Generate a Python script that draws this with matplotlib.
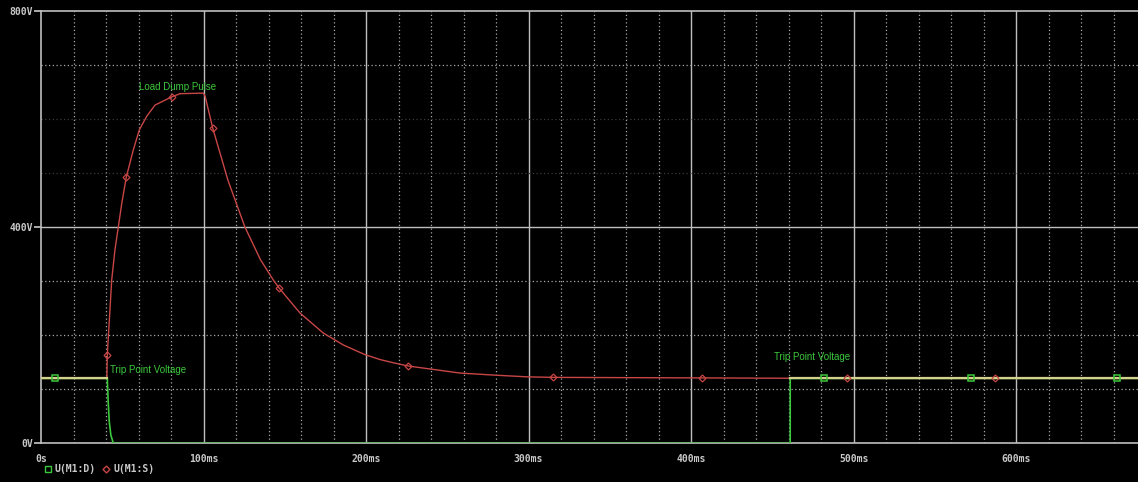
import numpy as np
import matplotlib
matplotlib.use('Agg')
import matplotlib.pyplot as plt
from matplotlib.lines import Line2D
from matplotlib.ticker import FixedLocator

# -------------------------------------------------------------------------------------------------------------------- #
# DATA (time in ms, voltage in V)

# U(M1:S) - load dump pulse
t_source = [0, 40.5, 40.8, 43.5, 45.5, 47.6, 49.7, 52.5, 56.8, 60.5, 65.0, 70.2, 80.4, 85.5, 99.9, 101.0,
            105.7, 115.0, 125.5, 135.0, 143.4, 146.6, 159.4, 173.7, 186.0, 199.4, 208.6, 216.8, 226.0,
            257.8, 280.0, 298.9, 315.0, 407.0, 496.0, 587.0, 675.0]
v_source = [120, 120, 164, 302, 358, 401, 444, 493, 543, 580, 605, 626, 641, 647, 648, 642,
            583, 487, 400, 340, 300, 287, 241, 204, 182, 164, 155, 149, 143,
            130, 126, 123, 122, 121, 120, 120, 120]
source_markers = [2, 7, 12, 16, 21, 28, 32, 33, 34, 35]

# U(M1:D) - drain, trips off and back on
t_drain = [0, 8.6, 40.8, 41.3, 42.0, 43.0, 44.5, 461.0, 461.0, 482.0, 572.0, 662.0, 675.0]
v_drain = [120, 120, 120, 80, 40, 15, 0, 0, 120, 120, 120, 120, 120]
drain_markers = [1, 9, 10, 11]

x_ticks = [0, 100, 200, 300, 400, 500, 600]
x_labels = ['0s', '100ms', '200ms', '300ms', '400ms', '500ms', '600ms']
y_ticks = [0, 400, 800]
y_labels = ['0V', '400V', '800V']

notes = [('Load Dump Pulse', 60.5, 660),
         ('Trip Point Voltage', 42.5, 136),
         ('Trip Point Voltage', 451.0, 160)]

# -------------------------------------------------------------------------------------------------------------------- #
# PLOT

green = '#3cc83c'
red = '#c84646'
yellow = '#d2d28c'
grid_col = '#a8a8a8'

fig = plt.figure(figsize=(11.38, 4.82), dpi=100, facecolor='black')
ax = fig.add_axes([41 / 1138, 1 - 443.3 / 482, 1 - 41 / 1138, (443.3 - 11) / 482])
ax.set_facecolor('black')

ax.set_xlim(0, 675)
ax.set_ylim(0, 800)

# grid
for x in range(20, 675, 20):
    if x % 100 == 0:
        ax.axvline(x, color='#bebebe', lw=1.0, zorder=1)
    else:
        ax.axvline(x, color=grid_col, lw=0.9, ls=(0, (1, 2)), zorder=1)
for y in range(100, 800, 100):
    if y == 400:
        ax.axhline(y, color='#bebebe', lw=1.0, zorder=1)
    elif y in (500, 600):
        ax.axhline(y, color='#3a3a3a', lw=0.9, ls=(0, (1, 2)), zorder=1)
    else:
        ax.axhline(y, color=grid_col, lw=0.9, ls=(0, (1, 2)), zorder=1)

# traces
ax.plot(t_drain, v_drain, color=green, lw=1.2, zorder=3)
ax.plot(t_source, v_source, color=red, lw=1.0, zorder=4)
v_drain_arr = np.array(v_drain, dtype=float)
ax.plot(t_drain, np.ma.masked_where(v_drain_arr < 119, v_drain_arr), color=yellow, lw=1.6, zorder=5)

ax.plot(np.array(t_source)[source_markers], np.array(v_source)[source_markers], linestyle='none',
        marker='D', markersize=3.5, mfc='none', mec=red, mew=0.9, zorder=6)
ax.plot(np.array(t_drain)[drain_markers], np.array(v_drain)[drain_markers], linestyle='none',
        marker='s', markersize=5, mfc='none', mec=green, mew=1.1, zorder=6)

for text, tx, ty in notes:
    ax.text(tx, ty, text, color=green, fontsize=7, family='Liberation Sans', va='center', ha='left', zorder=7)

# axes
for side in ['left', 'bottom', 'top']:
    ax.spines[side].set_color('#bebebe')
    ax.spines[side].set_linewidth(1.2)
ax.spines['right'].set_visible(False)

ax.xaxis.set_major_locator(FixedLocator(x_ticks))
ax.set_xticklabels(x_labels)
ax.yaxis.set_major_locator(FixedLocator(y_ticks))
ax.set_yticklabels(y_labels)
ax.tick_params(axis='x', length=0, pad=8, colors='#c8c8c8', labelsize=7)
ax.tick_params(axis='y', length=5, width=1.2, pad=1, colors='#c8c8c8', labelsize=7)
for lbl in ax.get_xticklabels() + ax.get_yticklabels():
    lbl.set_family('DejaVu Sans Mono')
    lbl.set_fontweight('bold')

# legend
handles = [Line2D([], [], linestyle='none', marker='s', markersize=4, mfc='none', mec=green, mew=1.0),
           Line2D([], [], linestyle='none', marker='D', markersize=3.5, mfc='none', mec=red, mew=1.0)]
leg = fig.legend(handles, ['U(M1:D)', 'U(M1:S)'], loc='center left', bbox_to_anchor=(36 / 1138, 1 - 469 / 482),
                 ncol=2, frameon=False, handlelength=0.6, handletextpad=0.4, columnspacing=0.8,
                 prop={'family': 'DejaVu Sans Mono', 'weight': 'bold', 'size': 7})
for txt in leg.get_texts():
    txt.set_color('#c8c8c8')

plt.savefig('out.png', dpi=100, facecolor='black')
